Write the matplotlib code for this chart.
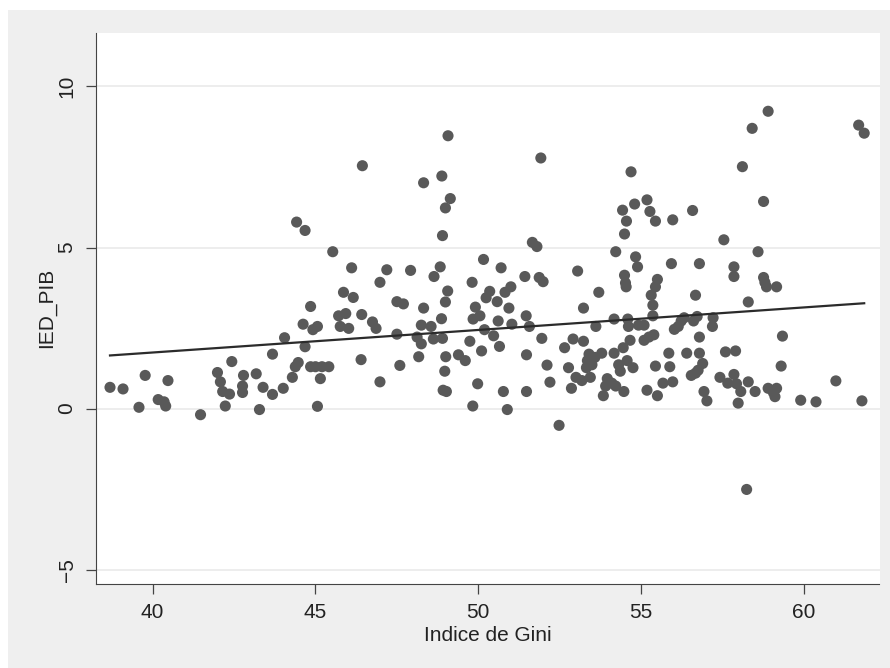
import numpy as np
import matplotlib.pyplot as plt
from matplotlib.patches import Rectangle

plt.rcParams['font.family'] = ['Liberation Sans', 'DejaVu Sans']

# Indice de Gini (x) and IED_PIB (y)
gini = [38.69, 39.09, 39.58, 39.77, 40.17, 40.35, 40.40, 40.47, 41.47, 41.99,
        42.08, 42.15, 42.23, 42.36, 42.43, 42.76, 42.76, 42.79, 43.18, 43.28,
        43.39, 43.68, 43.68, 44.01, 44.05, 44.29, 44.42, 44.38, 44.47, 44.62,
        44.68, 44.68, 44.85, 44.85, 44.92, 45.06, 45.06, 45.00, 45.15, 45.20,
        45.41, 45.53, 45.71, 45.76, 45.86, 45.93, 46.02, 46.11, 46.16, 46.40,
        46.42, 46.44, 46.75, 46.86, 46.98, 46.98, 47.19, 47.50, 47.50, 47.59,
        47.70, 47.92, 48.12, 48.17, 48.25, 48.25, 48.32, 48.32, 48.55, 48.62,
        48.64, 48.83, 48.87, 48.88, 48.90, 48.90, 48.92, 48.97, 48.99, 48.99,
        49.00, 49.02, 49.06, 49.07, 49.14, 49.39, 49.60, 49.74, 49.81, 49.83,
        49.84, 49.91, 49.98, 50.05, 50.10, 50.16, 50.19, 50.24, 50.35, 50.47,
        50.58, 50.61, 50.65, 50.70, 50.77, 50.82, 50.89, 50.94, 51.00, 51.03,
        51.43, 51.47, 51.48, 51.48, 51.57, 51.66, 51.80, 51.87, 51.92, 51.95,
        51.99, 52.11, 52.20, 52.48, 52.65, 52.77, 52.86, 52.91, 53.05, 53.00,
        53.18, 53.23, 53.23, 53.32, 53.35, 53.40, 53.44, 53.49, 53.58, 53.61,
        53.70, 53.79, 53.84, 53.91, 53.96, 54.10, 54.17, 54.17, 54.22, 54.22,
        54.31, 54.36, 54.43, 54.45, 54.47, 54.49, 54.49, 54.52, 54.54, 54.55,
        54.57, 54.59, 54.61, 54.66, 54.69, 54.75, 54.80, 54.83, 54.89, 54.92,
        55.09, 55.09, 55.18, 55.18, 55.24, 55.27, 55.31, 55.36, 55.36, 55.39,
        55.44, 55.44, 55.44, 55.50, 55.50, 55.67, 55.85, 55.88, 55.93, 55.97,
        55.97, 56.02, 56.14, 56.23, 56.32, 56.40, 56.54, 56.58, 56.61, 56.67,
        56.67, 56.72, 56.75, 56.79, 56.79, 56.79, 56.89, 56.93, 57.02, 57.19,
        57.21, 57.42, 57.54, 57.59, 57.66, 57.85, 57.85, 57.85, 57.90, 57.93,
        57.98, 58.06, 58.11, 58.24, 58.29, 58.29, 58.41, 58.50, 58.59, 58.76,
        58.76, 58.80, 58.85, 58.90, 58.90, 59.06, 59.11, 59.16, 59.16, 59.30,
        59.34, 59.90, 60.37, 60.98, 61.68, 61.78, 61.85]
ied = [0.66, 0.61, 0.04, 1.03, 0.28, 0.21, 0.08, 0.87, -0.19, 1.12,
       0.83, 0.53, 0.08, 0.45, 1.46, 0.70, 0.50, 1.03, 1.08, -0.03,
       0.66, 0.44, 1.69, 0.63, 2.20, 0.97, 5.79, 1.30, 1.43, 2.62,
       5.53, 1.92, 3.17, 1.30, 2.45, 2.55, 0.07, 1.30, 0.93, 1.30,
       1.30, 4.87, 2.88, 2.55, 3.61, 2.95, 2.49, 4.37, 3.45, 1.52,
       2.92, 7.54, 2.69, 2.49, 0.83, 3.92, 4.31, 3.32, 2.31, 1.34,
       3.25, 4.29, 2.22, 1.61, 2.01, 2.59, 7.01, 3.12, 2.55, 2.16,
       4.10, 4.40, 2.79, 7.22, 5.37, 2.18, 0.57, 1.16, 3.31, 6.23,
       1.61, 0.53, 3.65, 8.47, 6.52, 1.67, 1.49, 2.09, 3.92, 0.08,
       2.78, 3.15, 0.77, 2.88, 1.79, 4.63, 2.45, 3.44, 3.64, 2.26,
       3.32, 2.72, 1.93, 4.37, 0.53, 3.61, -0.03, 3.12, 3.78, 2.62,
       4.10, 2.88, 0.53, 1.67, 2.55, 5.16, 5.03, 4.07, 7.78, 2.18,
       3.94, 1.35, 0.82, -0.52, 1.89, 1.27, 0.63, 2.16, 4.27, 0.97,
       0.87, 3.12, 2.09, 1.27, 1.49, 1.69, 0.97, 1.36, 1.59, 2.55,
       3.61, 1.72, 0.40, 0.70, 0.93, 0.79, 2.78, 1.72, 4.87, 0.70,
       1.36, 1.16, 6.16, 1.89, 0.53, 4.14, 5.42, 3.90, 3.78, 5.82,
       1.49, 2.78, 2.55, 2.12, 7.35, 1.27, 6.35, 4.71, 4.40, 2.59,
       2.59, 2.12, 6.48, 0.57, 2.22, 6.12, 3.52, 3.21, 2.88, 2.29,
       5.82, 1.32, 3.78, 4.01, 0.40, 0.79, 1.72, 1.30, 4.50, 0.83,
       5.86, 2.46, 2.55, 2.72, 2.82, 1.72, 1.03, 6.15, 2.72, 3.52,
       1.10, 2.86, 1.19, 4.50, 1.72, 2.22, 1.40, 0.53, 0.24, 2.55,
       2.82, 0.97, 5.24, 1.76, 0.79, 4.10, 4.40, 1.06, 1.79, 0.77,
       0.17, 0.53, 7.51, -2.51, 3.31, 0.83, 8.70, 0.53, 4.87, 6.43,
       4.07, 3.92, 3.78, 0.63, 9.23, 0.50, 0.37, 0.63, 3.78, 1.32,
       2.25, 0.26, 0.21, 0.86, 8.80, 0.24, 8.55]

xticks = [40, 45, 50, 55, 60]
yticks = [-5, 0, 5, 10]

x = np.array(gini)
y = np.array(ied)
b, a = np.polyfit(x, y, 1)
xfit = np.array([x.min(), x.max()])

fig = plt.figure(figsize=(8.9, 6.68), dpi=100)
fig.patch.set_facecolor('white')
fig.patches.append(Rectangle((8 / 890, 0), 882 / 890, 658 / 668,
                             transform=fig.transFigure, facecolor='#efefef',
                             edgecolor='none', zorder=-10))

ax = fig.add_axes([96 / 890, 1 - 583.5 / 668, 783.5 / 890, 550.5 / 668])
ax.set_facecolor('white')
for yt in yticks:
    ax.axhline(yt, color='#ececec', lw=1.3, zorder=0)
ax.scatter(x, y, s=64, color='#595959', edgecolors='none', zorder=2)
ax.plot(xfit, a + b * xfit, color='#2b2b2b', lw=1.6, zorder=3)

ax.set_xlim(38.26, 62.32)
ax.set_ylim(-5.43, 11.66)
ax.set_xticks(xticks)
ax.set_yticks(yticks)
ax.tick_params(axis='both', labelsize=15, labelcolor='#222222', length=7,
               width=0.9, color='#444444', pad=7)
for lab in ax.get_yticklabels():
    lab.set_rotation(90)
    lab.set_va('center')
ax.spines['top'].set_visible(False)
ax.spines['right'].set_visible(False)
ax.spines['left'].set_color('#444444')
ax.spines['bottom'].set_color('#444444')
ax.set_xlabel('Indice de Gini', fontsize=15, color='#222222', labelpad=3)
ax.set_ylabel('IED_PIB', fontsize=15, color='#222222', labelpad=1)

fig.savefig('out.png', dpi=100, facecolor=fig.get_facecolor())
